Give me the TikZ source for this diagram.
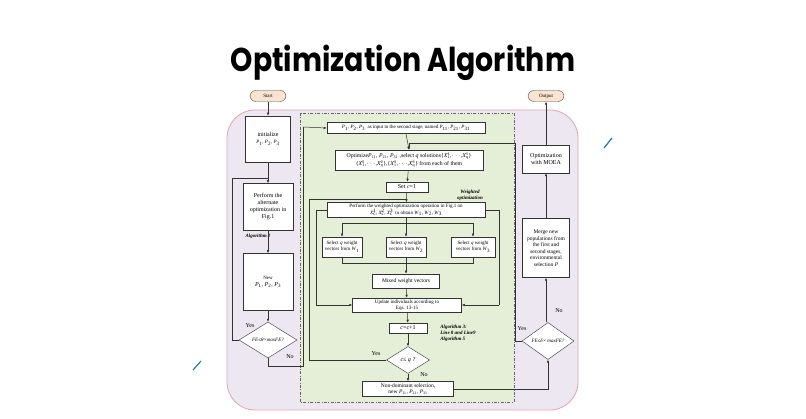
\documentclass[tikz,border=0pt]{standalone}
\usepackage{fontspec}
\setmainfont{Liberation Serif}
\newfontfamily\titlefont{Poppins}
\usetikzlibrary{shapes.geometric,arrows.meta}
\definecolor{lav}{HTML}{ECE7F1}
\definecolor{grn}{HTML}{E5EED6}
\definecolor{pinkb}{HTML}{E3A3B3}
\definecolor{peach}{HTML}{FBE3D2}
\newcommand\Pn[1]{\textit{P}\textsubscript{#1}}
\newcommand\Wn[1]{\textit{W}\textsubscript{#1}}
\newcommand\Xs[2]{\={\textit{X}}\rlap{\textsuperscript{#2}}\textsubscript{#1}}
\begin{document}
\begin{tikzpicture}[x=1pt,y=-1pt,
  box/.style={draw=black!80,fill=white,line width=0.5pt,align=center,inner sep=1pt,font=\fontsize{6}{7}\selectfont},
  sbox/.style={box,font=\fontsize{5}{6}\selectfont},
  dia/.style={draw=black!80,fill=white,diamond,aspect=1.6,inner sep=0pt,align=center,font=\fontsize{5}{6}\selectfont\itshape},
  term/.style={draw=black!70,fill=peach,rounded corners=6pt,minimum width=36pt,minimum height=11pt,inner sep=1pt,font=\fontsize{5}{6}\selectfont},
  lbl/.style={font=\fontsize{6}{7}\selectfont},
  alg/.style={font=\fontsize{5}{6}\selectfont\bfseries\itshape,align=left},
  ar/.style={-{Latex[length=3pt,width=2.5pt]},line width=0.5pt,draw=black!80},
  ln/.style={line width=0.5pt,draw=black!80}]
\useasboundingbox (0,0) rectangle (806,419);
\fill[white] (0,0) rectangle (806,419);
\node[font=\titlefont\bfseries\fontsize{33}{36}\selectfont,inner sep=0pt] (title) at (403,63) {\scalebox{0.86}[1]{Optimization Algorithm}};
\draw[draw=pinkb,fill=lav,line width=0.8pt,rounded corners=28pt] (227,110) rectangle (578,410);
\draw[draw=black!60,fill=grn,dash pattern=on 3pt off 1.5pt on 0.8pt off 1.5pt,line width=0.5pt] (300,113) rectangle (514,402);
\draw[cyan!60!blue,line width=1.2pt] (604,148) -- (612,138);
\draw[cyan!60!blue,line width=1.2pt] (193,370) -- (201,361);
% left column
\node[term] (start) at (268,96) {Start};
\node[box,minimum width=45pt,minimum height=46pt] (init) at (268,139) {initialize\\{\fontsize{5}{6}\selectfont\Pn1, \Pn2, \Pn3}};
\node[box,minimum width=50pt,minimum height=47pt] (perf) at (268,207) {Perform the\\alternate\\optimization in\\Fig.1};
\node[alg] (alg2) at (258,236) {Algorithm 2};
\node[box,minimum width=50pt,minimum height=57pt] (new) at (268,282) {{\fontsize{5}{6}\selectfont New}\\\Pn1, \Pn2, \Pn3};
\node[dia,minimum width=58pt,minimum height=36pt] (d1) at (268,340) {FE≤θ×maxFE?};
\node[lbl] (y1) at (250,326) {Yes};
\node[lbl] (n1) at (290,357) {No};
\draw[ar] (start) -- (init);
\draw[ar] (init) -- (perf);
\draw[ar] (perf) -- (new);
\draw[ar] (new) -- (d1);
\coordinate (j1) at (268,178);
\draw[ln] (d1.west) -| (232,178) -- (j1);
% green column
\node[box,minimum width=158pt,minimum height=11pt,font=\fontsize{5}{6}\selectfont] (top) at (406,128) {\Pn1, \Pn2, \Pn3\ \ as input to the second stage, named \Pn{11}, \Pn{21}, \Pn{31}};
\node[box,minimum width=148pt,minimum height=20pt,font=\fontsize{5.8}{8}\selectfont] (opt) at (409,160) {Optimize\Pn{11}, \Pn{21}, \Pn{31} ,select \textit{q} solutions\{\Xs11,$\cdots$,\Xs q1\}\\\{\Xs12,$\cdots$,\Xs q2\},\{\Xs13,$\cdots$,\Xs q3\} from each of them};
\node[box,minimum width=42pt,minimum height=10pt] (set) at (407,187) {Set \textit{c}=1};
\node[alg,align=center] (wo) at (470,195) {Weighted\\optimization};
\node[box,minimum width=158pt,minimum height=15pt,font=\fontsize{5}{6.5}\selectfont] (pw) at (406,210) {Perform the weighted optimization operation in Fig.1 on\\\Xs c1, \Xs c2, \Xs c3\ \ to obtain \Wn1, \Wn2, \Wn3};
\node[sbox,minimum width=40pt,minimum height=20pt] (s1) at (342,247) {Select \textit{q} weight\\vectors from \Wn1};
\node[sbox,minimum width=40pt,minimum height=20pt] (s2) at (406,247) {Select \textit{q} weight\\vectors from \Wn2};
\node[sbox,minimum width=44pt,minimum height=20pt] (s3) at (473,247) {Select \textit{q} weight\\vectors from \Wn3};
\node[box,minimum width=67pt,minimum height=14pt,font=\fontsize{5.5}{6.5}\selectfont] (mix) at (406,281) {Mixed weight vectors};
\node[box,minimum width=109pt,minimum height=14pt,font=\fontsize{5}{6}\selectfont] (upd) at (407,305) {Update individuals according to\\Eqs. 13-15};
\node[box,minimum width=38pt,minimum height=10pt] (cc) at (408,328) {\textit{c}=\textit{c}+1};
\node[alg] (alg3) at (458,333) {Algorithm 3:\\Line 8 and Line9\\Algorithm 5};
\node[dia,minimum width=43pt,minimum height=27pt,font=\fontsize{6}{7}\selectfont\itshape] (d2) at (408,360) {c≤ q ?};
\node[lbl] (y2) at (376,354) {Yes};
\node[lbl] (n2) at (424,375) {No};
\node[box,minimum width=91pt,minimum height=15pt,font=\fontsize{5.5}{6.5}\selectfont] (nd) at (408,389) {Non-dominant selection,\\new \Pn{11}, \Pn{21}, \Pn{31}};
\coordinate (b1) at (406,223);
\coordinate (b2) at (406,263);
\draw[ln] (d1.south) |- (303,366) -- (303,127);
\draw[ar] (303,127) -- (top.west);
\draw[ar] (top.south) -- (opt.north);
\draw[ar] (opt) -- (set);
\draw[ar] (set) -- (pw);
\draw[ln] (pw.south) -- (b1);
\draw[ln] (s1.north |- b1) -- (s3.north |- b1);
\draw[ar] (s1.north |- b1) -- (s1.north);
\draw[ar] (b1) -- (s2.north);
\draw[ar] (s3.north |- b1) -- (s3.north);
\draw[ln] (s1.south) -- (s1.south |- b2) -- (s3.south |- b2) -- (s3.south);
\draw[ln] (s2.south) -- (b2);
\draw[ar] (b2) -- (mix);
\draw[ar] (mix) -- (upd);
\draw[ln] (pw.west) -| (316,305);
\draw[ar] (316,305) -- (upd.west);
\draw[ln] (pw.east) -| (499,305);
\draw[ar] (499,305) -- (upd.east);
\draw[ar] (upd) -- (cc);
\draw[ar] (cc) -- (d2);
\draw[ln] (d2.west) -| (309,199) -- (406,199);
\draw[ar] (d2) -- (nd);
% right column
\node[term] (out) at (546,96) {Output};
\node[box,minimum width=47pt,minimum height=28pt] (moea) at (546,159) {Optimization\\with MOEA};
\node[box,minimum width=47pt,minimum height=59pt,font=\fontsize{5.5}{6.5}\selectfont] (merge) at (546,248) {Merge new\\populations from\\the first and\\second stages,\\environmental\\selection \textit{P}};
\node[dia,minimum width=52pt,minimum height=37pt] (d3) at (548,341) {FE≤δ× maxFE?};
\node[lbl] (y3) at (522,329) {Yes};
\node[lbl] (n3) at (559,311) {No};
\draw[ar] (nd.east) -| (d3.south);
\draw[ar] (d3.north -| merge.south) -- (merge.south);
\draw[ar] (merge) -- (moea);
\draw[ar] (moea) -- (out);
\draw[ln] (d3.west) -| (515,143);
\draw[ar] (515,143) -- (409,143) -- (opt.north);
\end{tikzpicture}
\end{document}
